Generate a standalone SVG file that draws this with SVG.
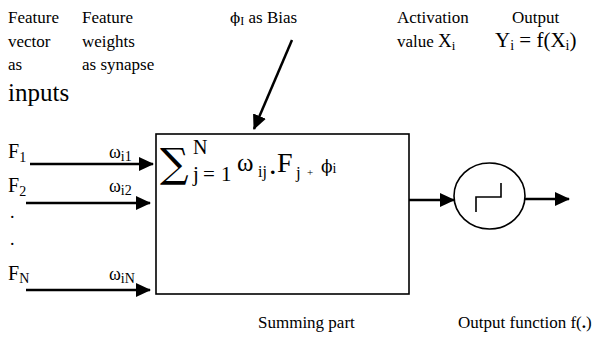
<svg xmlns="http://www.w3.org/2000/svg" width="603" height="351" viewBox="0 0 603 351" font-family="'Liberation Serif', 'Times New Roman', 'DejaVu Serif', serif" font-size="17">
<style>
.ln{stroke:#000;stroke-width:2.5;fill:none}
.thin{stroke:#000;stroke-width:1.6;fill:none}
.phi{font-family:"DejaVu Serif",serif}
</style>
<defs>
<marker id="ah" markerWidth="15" markerHeight="14" refX="14" refY="7" orient="auto" markerUnits="userSpaceOnUse" viewBox="0 0 15 14">
<path d="M0,0 L15,7 L0,14 z" fill="#000"/>
</marker>
</defs>
<g id="labels">
<text x="8" y="23">Feature</text>
<text x="8" y="47">vector</text>
<text x="8" y="70">as</text>
<text x="8" y="101" font-size="25">inputs</text>
<text x="82" y="23">Feature</text>
<text x="82" y="47">weights</text>
<text x="82" y="70">as synapse</text>
<text x="230" y="23"><tspan class="phi" font-size="15">ϕ</tspan><tspan font-size="12" dy="2">I</tspan><tspan dy="-2"> as Bias</tspan></text>
<text x="397" y="23">Activation</text>
<text x="397" y="47">value  <tspan font-size="19">X</tspan><tspan font-size="13" dy="3">i</tspan></text>
<text x="512" y="23">Output</text>
<text x="495" y="47" font-size="21">Y<tspan font-size="14" dy="3">i</tspan><tspan dy="-3"> = f(X</tspan><tspan font-size="14" dy="3">i</tspan><tspan dy="-3">)</tspan></text>
<text x="258" y="328">Summing part</text>
<text x="458" y="328">Output function  f(<tspan font-weight="bold">.</tspan>)</text>
</g>
<g id="inputs">
<text x="8" y="158" font-size="20">F<tspan font-size="14" dy="4">1</tspan></text>
<text x="8" y="192" font-size="20">F<tspan font-size="14" dy="4">2</tspan></text>
<text x="10" y="218" font-size="18">.</text>
<text x="10" y="245" font-size="18">.</text>
<text x="8" y="280" font-size="20">F<tspan font-size="14" dy="3">N</tspan></text>
<text x="109" y="158" font-size="18">ω<tspan font-size="14" dy="3">i1</tspan></text>
<text x="109" y="192" font-size="18">ω<tspan font-size="14" dy="3">i2</tspan></text>
<text x="109" y="280" font-size="18">ω<tspan font-size="14" dy="3">iN</tspan></text>
</g>
<g id="summing">
<rect x="156" y="134" width="253" height="160" class="thin"/>
<text x="160" y="177" font-size="40" font-family="'DejaVu Serif', serif">∑</text>
<text x="193" y="154" font-size="20">N</text>
<text y="181" font-size="21"><tspan x="193">j</tspan><tspan x="203">=</tspan><tspan x="221">1</tspan></text>
<text x="237" y="171" font-size="25">ω</text>
<text x="258" y="177" font-size="16">ij</text>
<text x="270" y="174" font-size="22" font-weight="bold">.</text>
<text x="277" y="172" font-size="28">F</text>
<text x="296" y="178" font-size="17">j</text>
<text x="307" y="176" font-size="11">+</text>
<text x="321" y="172"><tspan class="phi" font-size="17">ϕ</tspan><tspan font-size="14" dy="1">i</tspan></text>
</g>
<g id="output">
<ellipse cx="489.5" cy="196" rx="35.5" ry="33" class="thin"/>
<path d="M476,212 V197 H501 V183" class="thin"/>
</g>
<g id="connectors">
<line x1="30" y1="164" x2="153" y2="164" class="ln" marker-end="url(#ah)"/>
<line x1="26" y1="203" x2="150" y2="203" class="ln" marker-end="url(#ah)"/>
<line x1="26" y1="290" x2="150" y2="290" class="ln" marker-end="url(#ah)"/>
<line x1="292" y1="40" x2="254" y2="129" class="ln" marker-end="url(#ah)"/>
<line x1="409" y1="200" x2="454" y2="200" class="ln" marker-end="url(#ah)"/>
<line x1="525" y1="199" x2="569" y2="199" class="ln" marker-end="url(#ah)"/>
</g>
</svg>
